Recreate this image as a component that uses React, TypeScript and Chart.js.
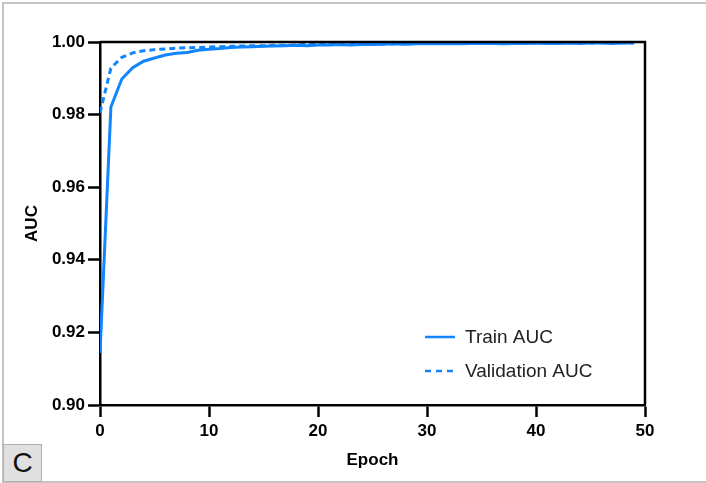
import React, { useEffect, useRef } from "react";
import { Chart, registerables } from "chart.js";

Chart.register(...registerables);

const epochs: number[] = Array.from({ length: 50 }, (_, i) => i);

const trainAUC: number[] = [
  0.9143, 0.9821, 0.9898, 0.9929, 0.9947, 0.9956, 0.9964, 0.9969, 0.9971, 0.9977,
  0.998, 0.9982, 0.9985, 0.9986, 0.9987, 0.9988, 0.9989, 0.999, 0.9991, 0.999,
  0.9992, 0.9992, 0.9993, 0.9992, 0.9993, 0.9993, 0.9994, 0.9995, 0.9994, 0.9995,
  0.9995, 0.9995, 0.9996, 0.9995, 0.9996, 0.9996, 0.9996, 0.9995, 0.9996, 0.9996,
  0.9997, 0.9996, 0.9996, 0.9997, 0.9996, 0.9997, 0.9997, 0.9996, 0.9997, 0.9997,
];

const valAUC: number[] = [
  0.9805, 0.9928, 0.9958, 0.997, 0.9976, 0.9979, 0.9981, 0.9983, 0.9984, 0.9985,
  0.9986, 0.9987, 0.9988, 0.9989, 0.999, 0.999, 0.9991, 0.9991, 0.9992, 0.9993,
  0.9993, 0.9993, 0.9994, 0.9994, 0.9994, 0.9995, 0.9995, 0.9995, 0.9995, 0.9996,
  0.9996, 0.9996, 0.9996, 0.9996, 0.9996, 0.9997, 0.9997, 0.9997, 0.9997, 0.9997,
  0.9997, 0.9997, 0.9997, 0.9998, 0.9997, 0.9997, 0.9998, 0.9998, 0.9998, 0.9998,
];

const seriesLabels = ["Train AUC", "Validation AUC"];
const xTitle = "Epoch";
const yTitle = "AUC";
const panelLetter = "C";

const BLUE = "#1184ff";
const FONT = "'Liberation Sans', Arial, sans-serif";

const framePlugin = {
  id: "frame",
  afterDatasetsDraw(chart: any) {
    const { ctx, chartArea } = chart;
    ctx.save();
    ctx.strokeStyle = "#000";
    ctx.lineWidth = 2.5;
    ctx.beginPath();
    ctx.moveTo(chartArea.left, chartArea.top);
    ctx.lineTo(chartArea.right, chartArea.top);
    ctx.lineTo(chartArea.right, chartArea.bottom);
    ctx.stroke();
    ctx.restore();
  },
  afterDraw(chart: any) {
    const { ctx } = chart;
    const items = chart.data.datasets.map((d: any) => ({
      label: d.label,
      dash: d.borderDash || [],
    }));
    ctx.save();
    const x0 = 425;
    const y0 = 337;
    const gap = 34;
    items.forEach((it: any, i: number) => {
      const y = y0 + i * gap;
      ctx.strokeStyle = BLUE;
      ctx.lineWidth = 2.5;
      ctx.setLineDash(it.dash.length ? [6, 5] : []);
      ctx.beginPath();
      ctx.moveTo(x0, y);
      ctx.lineTo(x0 + 30, y);
      ctx.stroke();
      ctx.setLineDash([]);
      ctx.fillStyle = "#222";
      ctx.font = `19px ${FONT}`;
      ctx.textBaseline = "middle";
      ctx.textAlign = "left";
      ctx.fillText(it.label, x0 + 40, y + 1);
    });
    ctx.restore();
  },
};

export default function App() {
  const ref = useRef<HTMLCanvasElement | null>(null);

  useEffect(() => {
    if (!ref.current) return;
    const chart = new Chart(ref.current, {
      type: "line",
      data: {
        datasets: [
          {
            label: seriesLabels[0],
            data: epochs.map((e, i) => ({ x: e, y: trainAUC[i] })),
            borderColor: BLUE,
            borderWidth: 3,
            pointRadius: 0,
            tension: 0,
            fill: false,
          },
          {
            label: seriesLabels[1],
            data: epochs.map((e, i) => ({ x: e, y: valAUC[i] })),
            borderColor: BLUE,
            borderWidth: 3,
            borderDash: [6, 4],
            pointRadius: 0,
            tension: 0,
            fill: false,
          },
        ],
      },
      options: {
        responsive: false,
        animation: false,
        devicePixelRatio: 1,
        layout: { padding: { top: 42, right: 61, left: 0, bottom: 0 } },
        plugins: { legend: { display: false }, tooltip: { enabled: false } },
        scales: {
          x: {
            type: "linear",
            min: 0,
            max: 50,
            afterFit: (s: any) => {
              s.height = 78;
            },
            ticks: {
              stepSize: 10,
              color: "#000",
              font: { family: FONT, size: 17, weight: "bold" },
              padding: 4,
              maxRotation: 0,
            },
            grid: {
              drawOnChartArea: false,
              tickLength: 12,
              tickColor: "#000",
              tickWidth: 2.5,
            },
            border: { color: "#000", width: 2.5 },
            title: {
              display: true,
              text: xTitle,
              color: "#000",
              font: { family: FONT, size: 17, weight: "bold" },
              padding: { bottom: 12, top: 0 },
            },
          },
          y: {
            type: "linear",
            min: 0.9,
            max: 1.0,
            afterFit: (s: any) => {
              s.width = 100;
            },
            ticks: {
              stepSize: 0.02,
              color: "#000",
              font: { family: FONT, size: 17, weight: "bold" },
              padding: 3,
              callback: (v: any) => Number(v).toFixed(2),
            },
            grid: {
              drawOnChartArea: false,
              tickLength: 12,
              tickColor: "#000",
              tickWidth: 2.5,
            },
            border: { color: "#000", width: 2.5 },
            title: {
              display: true,
              text: yTitle,
              color: "#000",
              font: { family: FONT, size: 17, weight: "bold" },
              padding: { top: 22, bottom: 0 },
            },
          },
        },
      },
      plugins: [framePlugin],
    });
    return () => chart.destroy();
  }, []);

  return (
    <div
      style={{
        position: "fixed",
        left: 0,
        top: 0,
        width: 706,
        height: 483,
        background: "#fff",
        overflow: "hidden",
      }}
    >
      <canvas
        ref={ref}
        width={706}
        height={483}
        style={{ position: "absolute", left: 0, top: 0, width: 706, height: 483 }}
      />
      <div
        style={{
          position: "absolute",
          left: 2,
          top: 2,
          width: 720,
          height: 477,
          borderTop: "2px solid #c4c4c4",
          borderLeft: "2px solid #c4c4c4",
          borderBottom: "2px solid #c4c4c4",
          pointerEvents: "none",
        }}
      />
      <div
        style={{
          position: "absolute",
          left: 3,
          top: 444,
          width: 37,
          height: 36,
          background: "#e0e0e0",
          border: "1px solid #b0b0b0",
          fontFamily: FONT,
          fontSize: 28,
          color: "#111",
          lineHeight: "36px",
          textAlign: "center",
        }}
      >
        {panelLetter}
      </div>
    </div>
  );
}
